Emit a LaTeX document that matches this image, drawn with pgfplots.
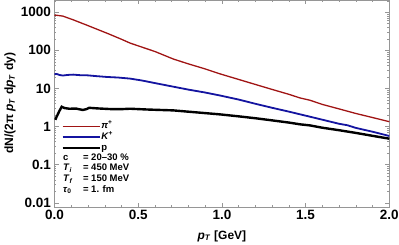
\documentclass[border=0pt]{standalone}
\usepackage{pgfplots}
\pgfplotsset{compat=1.18}
\usepackage{fontspec}
\setmainfont{Liberation Sans}
\definecolor{pired}{RGB}{160,20,20}
\definecolor{kblue}{RGB}{20,20,160}
\definecolor{framegray}{RGB}{150,150,150}
\newcommand{\pT}{\textit{p}\textsubscript{\textit{T}}}
\begin{document}
\begin{tikzpicture}
\begin{axis}[
  name=ax,
  scale only axis,
  width=334.8pt, height=206.7pt,
  ymode=log,
  xmin=0, xmax=2,
  ymin=0.00787, ymax=2090,
  axis line style={framegray},
  every tick/.style={framegray},
  tick align=inside,
  major tick length=4pt, minor tick length=2pt,
  xtick={0,0.5,1,1.5,2},
  minor xtick={0.1,0.2,...,1.95},
  ytick={0.01,0.1,1,10,100,1000},
  yticklabels={0.01,0.1,1,10,100,1000},
  minor ytick={0.02,0.03,0.04,0.05,0.06,0.07,0.08,0.09,0.2,0.3,0.4,0.5,0.6,0.7,0.8,0.9,2,3,4,5,6,7,8,9,20,30,40,50,60,70,80,90,200,300,400,500,600,700,800,900,2000},
  /pgf/number format/assume math mode=true,
  xticklabel style={/pgf/number format/.cd, fixed, fixed zerofill, precision=1},
  tick label style={font=\fontsize{13.5}{15}\selectfont\bfseries},
  every axis x label/.style={at={(axis description cs:0.5,0)}, yshift=-29.3pt, anchor=center},
  every axis y label/.style={at={(axis description cs:0,0.5)}, xshift=-44.5pt, rotate=90, anchor=center},
  xlabel={\pT\ [GeV]},
  ylabel={dN/(2π \pT\ d\pT\ dy)},
  label style={font=\fontsize{12}{14}\selectfont\bfseries},
  legend cell align=left,
  legend image code/.code={\draw[#1] (0pt,0pt) -- (37pt,0pt);},
  legend style={draw=none, fill=none, at={(rel axis cs:0.020,0.417)}, anchor=north west,
    font=\fontsize{9.5}{10}\selectfont\bfseries, row sep=0pt, inner sep=0pt,
    nodes={inner sep=0.5pt, text height=7pt, text depth=3pt}},
]
\addplot[pired, line width=1.3pt] coordinates {
(0.0,840) (0.013,830) (0.05,790) (0.112,630) (0.2,445) (0.312,283) (0.4,195)
(0.451,155) (0.511,126) (0.6,93) (0.71,59) (0.8,44) (0.9,32.5) (0.99,24)
(1.1,17.2) (1.2,12.7) (1.3,9.4) (1.4,7.0) (1.468,5.6) (1.526,4.9) (1.6,3.8)
(1.7,2.9) (1.8,2.2) (1.9,1.72) (2.0,1.34)};
\addlegendentry{\textit{π}\textsuperscript{+}}
\addplot[kblue, line width=1.8pt] coordinates {
(0.0,23.5) (0.013,24) (0.03,22.5) (0.05,21.8) (0.08,22.6) (0.112,23) (0.15,22.3)
(0.2,22) (0.25,21) (0.312,20) (0.38,19.3) (0.451,18.1) (0.52,16.2) (0.6,13.8)
(0.71,11.1) (0.8,9.3) (0.9,7.8) (0.99,6.5) (1.1,5.1) (1.2,3.95) (1.3,3.1)
(1.4,2.46) (1.526,1.81) (1.6,1.51) (1.7,1.18) (1.75,1.08) (1.8,0.92) (1.9,0.73) (2.0,0.565)};
\addlegendentry{\textit{K}\textsuperscript{+}}
\addplot[black, line width=2.4pt] coordinates {
(0.005,1.5) (0.01,1.7) (0.03,2.6) (0.043,3.3) (0.06,3.05) (0.088,2.93) (0.13,2.95)
(0.168,2.72) (0.19,2.85) (0.207,3.1) (0.25,3.0) (0.3,2.92) (0.35,2.85) (0.394,2.85)
(0.451,2.93) (0.474,2.9) (0.55,2.8) (0.6,2.75) (0.71,2.65) (0.8,2.45) (0.9,2.25)
(0.99,2.08) (1.1,1.85) (1.2,1.65) (1.3,1.45) (1.4,1.27) (1.468,1.14) (1.526,1.07)
(1.6,0.93) (1.7,0.80) (1.8,0.68) (1.9,0.57) (2.0,0.48)};
\addlegendentry{p}
\node[anchor=north west, inner sep=0pt, font=\fontsize{9.5}{10.7}\selectfont\bfseries]
  at (rel axis cs:0.025,0.262) {%
  \begin{tabular}{@{}p{20pt}@{}l@{}}
  c & = 20–30 \% \\
  \textit{T}\textsubscript{\textit{i}} & = 450 MeV \\
  \textit{T}\textsubscript{\textit{f}} & = 150 MeV \\
  \textit{τ}\textsubscript{0} & = 1. fm
  \end{tabular}};
\end{axis}
\pgfresetboundingbox
\useasboundingbox (-54.5pt,-37.3pt) rectangle (344.5pt,206.7pt);
\end{tikzpicture}
\end{document}
